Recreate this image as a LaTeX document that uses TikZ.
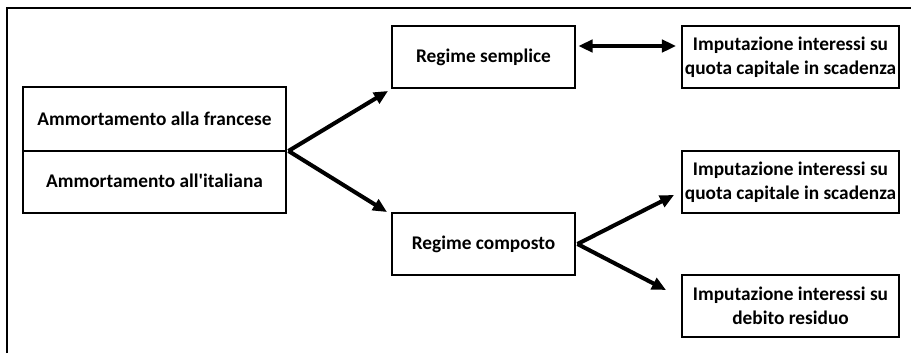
\documentclass[tikz,border=0pt]{standalone}
\usepackage{fontspec}
\setmainfont{Carlito}
\usetikzlibrary{arrows.meta,calc}
\begin{document}
\begin{tikzpicture}
  \tikzset{box/.style={draw,line width=1.1pt,minimum height=1.24cm,inner sep=0pt,align=center,
      font=\bfseries\fontsize{11}{13.6}\selectfont},
    link/.style={line width=2.3pt,-{Triangle[length=8pt,width=7pt]}},
    bilink/.style={line width=2.3pt,{Triangle[length=8pt,width=7pt]}-{Triangle[length=8pt,width=7pt]}}}
  \useasboundingbox (0,0) rectangle (18.22,7.06);
  \draw [line width=0.8pt] (0.14,0) -- (0.14,6.9) -- (18.22,6.9);
  \node [box,draw=none,minimum width=5.22cm] (francese) at (3.09,4.68) {Ammortamento alla francese};
  \node [box,draw=none,minimum width=5.22cm] (italiana) at (3.09,3.44) {Ammortamento all\textquotesingle italiana};
  \draw [line width=1.1pt] (francese.north west) rectangle (italiana.south east);
  \draw [line width=0.7pt] (francese.south west) -- (francese.south east);
  \node [box,minimum width=3.66cm] (semplice) at (9.67,5.92) {Regime semplice};
  \node [box,minimum width=3.66cm] (composto) at (9.67,2.18) {Regime composto};
  \node [box,minimum width=4.34cm] (quotaA) at (15.81,5.92) {Imputazione interessi su\\quota capitale in scadenza};
  \node [box,minimum width=4.34cm] (quotaB) at (15.81,3.42) {Imputazione interessi su\\quota capitale in scadenza};
  \node [box,minimum width=4.34cm] (debito) at (15.81,0.94) {Imputazione interessi su\\debito residuo};
  \coordinate (split) at ($(francese.south east)+(0.05,0)$);
  \draw [link] (split) -- ($(semplice.south west)+(-0.06,-0.04)$);
  \draw [link] (split) -- ($(composto.north west)+(-0.08,0)$);
  \draw [bilink] ($(semplice.east)+(0.05,0.22)$) -- ($(quotaA.west)+(-0.1,0.22)$);
  \draw [link] ($(composto.east)+(0.03,0)$) -- ($(quotaB.west)+(-0.14,-0.26)$);
  \draw [link] ($(composto.east)+(0.03,0)$) -- ($(debito.west)+(-0.3,0.32)$);
\end{tikzpicture}
\end{document}
